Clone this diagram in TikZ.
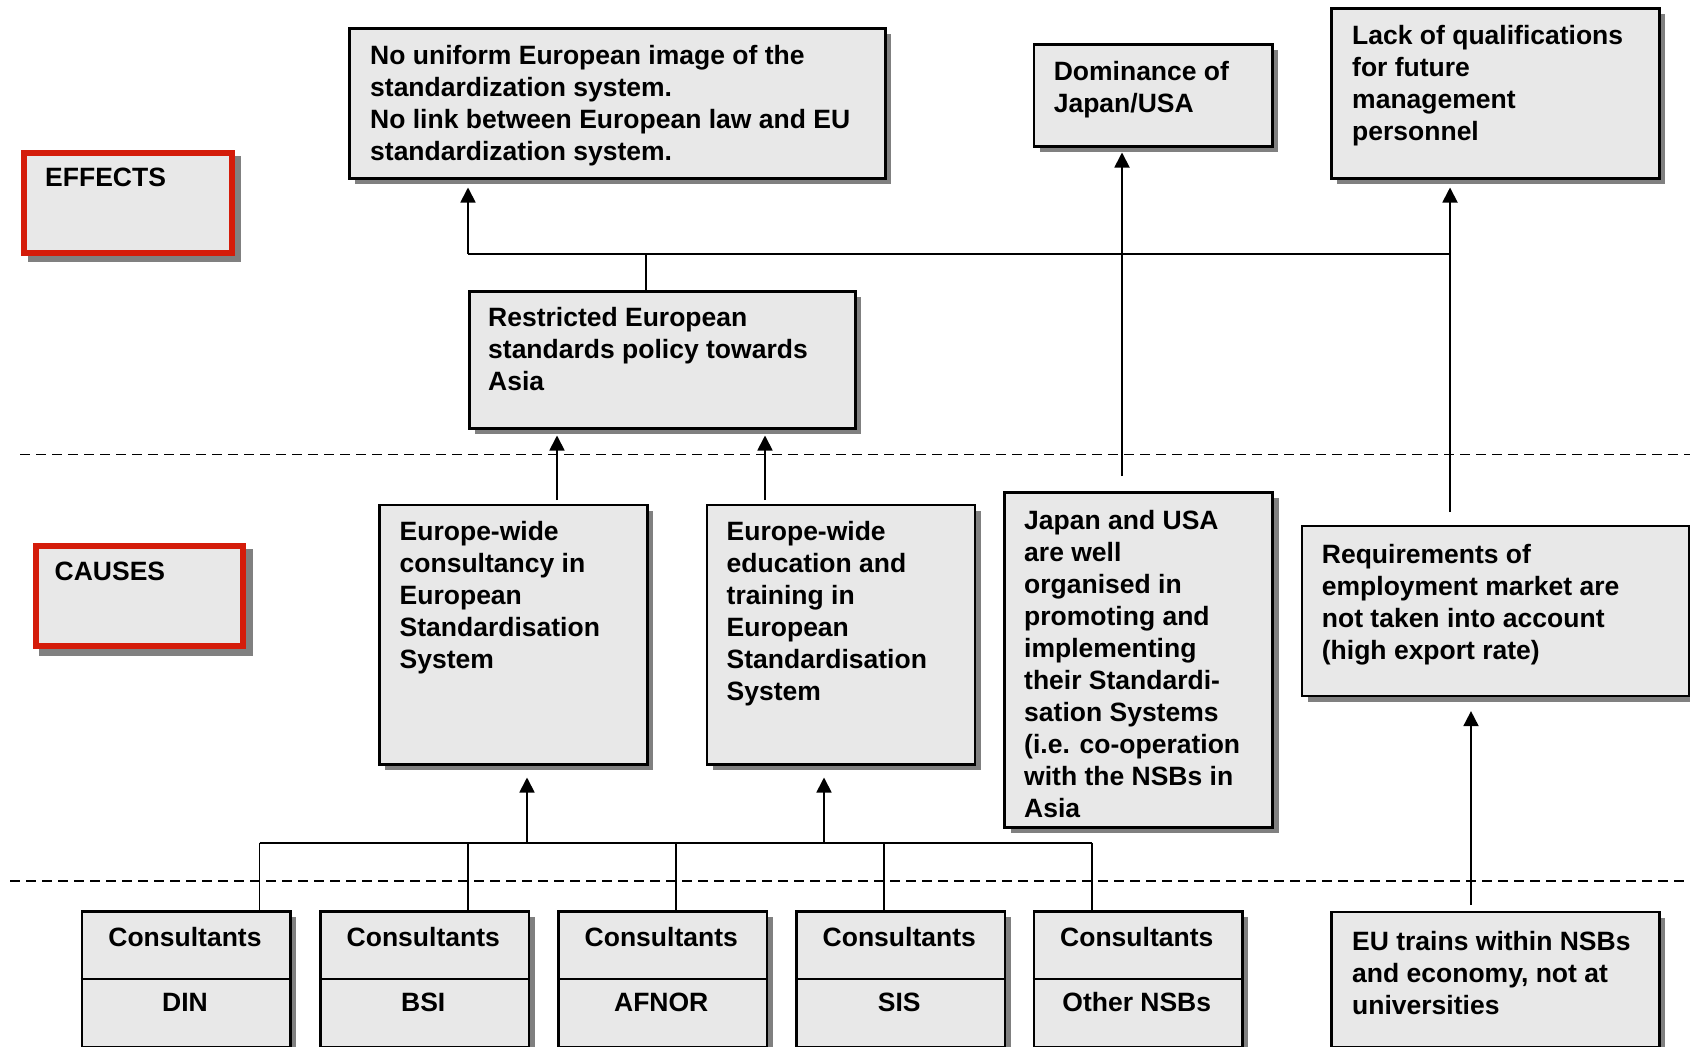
\documentclass[tikz,border=0pt]{standalone}
\usepackage{fontspec}
\setmainfont{Liberation Sans}
\usetikzlibrary{arrows.meta,shadows}
\definecolor{boxfill}{RGB}{232,232,232}
\definecolor{shgray}{RGB}{128,128,128}
\definecolor{lblred}{RGB}{212,28,10}
\newcommand\myst{\rule{0pt}{22pt}}
\begin{document}
\begin{tikzpicture}[x=1pt,y=-1pt,
  box/.style={draw=black, line width=2.5pt, fill=boxfill, anchor=north west, inner sep=0pt,
    drop shadow={shadow xshift=6pt, shadow yshift=-6pt, fill=shgray, opacity=1}},
  labelbox/.style={draw=lblred, line width=6pt, fill=boxfill, anchor=north west, inner sep=0pt,
    drop shadow={shadow xshift=6.5pt, shadow yshift=-6.5pt, fill=shgray, draw=shgray, line width=6pt, opacity=1}},
  txt/.style={anchor=north west, inner sep=0pt, align=left, font=\fontsize{26.5}{32}\selectfont\bfseries},
  ctxt/.style={anchor=base, inner sep=0pt, font=\fontsize{26.5}{32}\selectfont\bfseries},
  conn/.style={line width=1.8pt},
  arr/.style={line width=1.8pt, -{Triangle[length=15pt,width=15pt]}},
  dashline/.style={line width=1.8pt, dash pattern=on 10pt off 6pt}]
\useasboundingbox (0,0) rectangle (1690,1047);
\clip (0,0) rectangle (1690,1047);

% label boxes
\node[labelbox, minimum width=207.4pt, minimum height=100pt] (eff) at (21.3,149.7) {};
\node[txt] (efft) at (45,164.7) {\myst EFFECTS};
\node[labelbox, minimum width=207.5pt, minimum height=100.5pt] (cau) at (32.5,542.5) {};
\node[txt] (caut) at (54.5,558) {\myst CAUSES};

% effect boxes
\node[box, minimum width=536pt, minimum height=150pt] (T1) at (348,27) {};
\node[txt] (T1t) at (370,42) {\myst No uniform European image of the\\standardization system.\\No link between European law and EU\\standardization system.};
\node[box, minimum width=238.5pt, minimum height=102pt] (D) at (1032.5,43) {};
\node[txt] (Dt) at (1053.6,58) {\myst Dominance of\\Japan/USA};
\node[box, minimum width=328pt, minimum height=170pt] (L) at (1330,7) {};
\node[txt] (Lt) at (1352,22) {\myst Lack of qualifications\\for future\\management\\personnel};
\node[box, minimum width=386pt, minimum height=137pt] (R) at (468,290) {};
\node[txt] (Rt) at (488,304) {\myst Restricted European\\standards policy towards\\Asia};

% cause boxes
\node[box, minimum width=268pt, minimum height=259.5pt] (C1) at (378,503.5) {};
\node[txt] (C1t) at (399.5,518) {\myst Europe-wide\\consultancy in\\European\\Standardisation\\System};
\node[box, minimum width=268pt, minimum height=259.5pt] (C2) at (705.5,503.5) {};
\node[txt] (C2t) at (726.5,518) {\myst Europe-wide\\education and\\training in\\European\\Standardisation\\System};
\node[box, minimum width=268pt, minimum height=335pt] (J) at (1003.3,491) {};
\node[txt] (Jt) at (1024,507) {\myst Japan and USA\\are well\\organised in\\promoting and\\implementing\\their Standardi-\\sation Systems\\(i.e. co-operation\\with the NSBs in\\Asia};
\node[box, minimum width=387.5pt, minimum height=170pt] (Q) at (1300.5,524.6) {};
\node[txt] (Qt) at (1321.7,541) {\myst Requirements of\\employment market are\\not taken into account\\(high export rate)};

% bottom boxes
\foreach \nm/\xx/\lab in {K1/80.7/DIN, K2/319/BSI, K3/557/AFNOR, K4/795/SIS, K5/1032.5/Other NSBs}{
  \node[box, minimum width=208.5pt, minimum height=135.5pt] (\nm) at (\xx,910) {};
  \draw[line width=2.5pt] (\nm.north west) ++(0,69) -- ++(208.5,0);
  \node[ctxt] (\nm a) at (\xx+104.25,946.7) {Consultants};
  \node[ctxt] (\nm b) at (\xx+104.25,1011.7) {\lab};
}
\node[box, minimum width=328pt, minimum height=135pt] (EU) at (1330,910.6) {};
\node[txt] (EUt) at (1352,928) {\myst EU trains within NSBs\\and economy, not at\\universities};

% dashed separators
\draw[dashline] (20,454.5) -- (1690,454.5);
\draw[dashline] (10,881) -- (1690,881);

% upper connectors
\coordinate (rb) at (646,254);
\coordinate (b1l) at (468,254);
\coordinate (b1r) at (1450,254);
\coordinate (qt) at (1450,512);
\coordinate (jt) at (1122,476);
\draw[conn] (rb |- R.north) -- (rb);
\draw[conn] (b1l) -- (b1r);
\draw[arr, shorten >=8pt] (b1l) -- (b1l |- T1.south);
\draw[arr, shorten >=8pt] (qt) -- (qt |- L.south);
\draw[arr, shorten >=5pt] (jt) -- (jt |- D.south);
\coordinate (c1t) at (557,500);
\coordinate (c2t) at (765,500);
\draw[arr, shorten >=6pt] (c1t) -- (c1t |- R.south);
\draw[arr, shorten >=6pt] (c2t) -- (c2t |- R.south);

% lower connectors
\coordinate (b2l) at (259.5,842.7);
\coordinate (b2r) at (1092,842.7);
\draw[conn] (b2l) -- (b2r);
\foreach \xx/\nm in {259.5/K1, 467.7/K2, 675.9/K3, 884/K4, 1092/K5}{
  \draw[conn] (\xx,842.7) -- (\xx,842.7 |- \nm.north);
}
\coordinate (a1) at (527,842.7);
\coordinate (a2) at (824,842.7);
\draw[arr, shorten >=12pt] (a1) -- (a1 |- C1.south);
\draw[arr, shorten >=12pt] (a2) -- (a2 |- C2.south);
\coordinate (et) at (1471,905);
\draw[arr, shorten >=14pt] (et) -- (et |- Q.south);
\end{tikzpicture}
\end{document}
